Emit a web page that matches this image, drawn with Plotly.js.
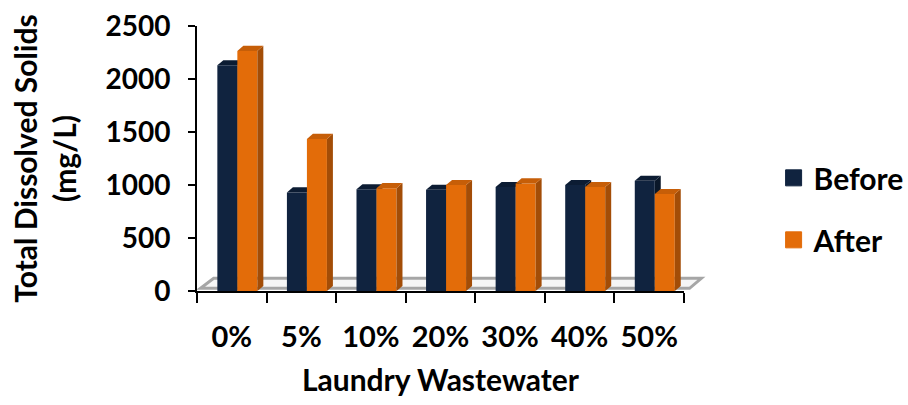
<!DOCTYPE html>
<html>
<head>
<meta charset="utf-8">
<script src="https://cdn.plot.ly/plotly-3.0.1.min.js"></script>
<style>html,body{margin:0;padding:0;background:#fff;}#chart{width:908px;height:405px;}</style>
</head>
<body>
<div id="chart"></div>
<script>
// ---- data ----
const categories = ["0%", "5%", "10%", "20%", "30%", "40%", "50%"];
const beforeValues = [2130, 930, 960, 955, 980, 1000, 1040];
const afterValues  = [2265, 1435, 970, 1000, 1015, 980, 915];
const seriesNames = ["Before", "After"];
const yTickValues = [0, 500, 1000, 1500, 2000, 2500];

// ---- styling ----
const FONT = "Lato, 'Open Sans', sans-serif";
const colBefore = "#10233f", colBeforeSide = "#0a1729", colBeforeTop = "#0c1c33";
const colAfter = "#e36c09", colAfterSide = "#a34d07", colAfterTop = "#c65e08";

const xIdx = categories.map((c, i) => i);
const barW = 0.2875;        // each bar width (axis units)
const shift = 0.08;         // 3D shift to the right
const dX = 0.086, dY = 48;  // depth offset of side/top faces

const offB = -barW + shift, offA = shift;

const traces = [
  {type: "bar", name: seriesNames[0], x: xIdx, y: beforeValues, width: barW, offset: offB,
   marker: {color: colBefore}, showlegend: false, hoverinfo: "y"},
  {type: "bar", name: seriesNames[1], x: xIdx, y: afterValues, width: barW, offset: offA,
   marker: {color: colAfter}, showlegend: false, hoverinfo: "y"},
  // legend keys (larger squares than the default bar key)
  {type: "scatter", mode: "markers", name: seriesNames[0], x: [null], y: [null], legendgroup: "b",
   marker: {symbol: "square", size: 16, color: colBefore, line: {width: 1, color: colBefore}}},
  {type: "scatter", mode: "markers", name: seriesNames[1], x: [null], y: [null], legendgroup: "a",
   marker: {symbol: "square", size: 16, color: colAfter, line: {width: 1, color: colAfter}}}
];

function faces(vals, off, side, top, layer) {
  const out = [];
  vals.forEach((v, i) => {
    const x0 = xIdx[i] + off, x1 = x0 + barW;
    out.push({type: "path", xref: "x", yref: "y", layer: layer,
      path: `M${x1},0 L${x1 + dX},${dY} L${x1 + dX},${v + dY} L${x1},${v} Z`,
      fillcolor: side, line: {width: 0}});
    out.push({type: "path", xref: "x", yref: "y", layer: layer,
      path: `M${x0},${v} L${x1},${v} L${x1 + dX},${v + dY} L${x0 + dX},${v + dY} Z`,
      fillcolor: top, line: {width: 0}});
  });
  return out;
}

const xMin = xIdx[0] - 0.5, xMax = xIdx[xIdx.length - 1] + 0.5;
const toPaper = x => (x - xMin) / (xMax - xMin);
const floor = {type: "path", xref: "paper", yref: "y", layer: "below",
  path: `M${toPaper(xMin + 0.05)},25 L${toPaper(xMax + 0.08)},25 L${toPaper(xMax + 0.25)},120 L${toPaper(xMin + 0.24)},120 Z`,
  fillcolor: "rgba(240,240,240,0.6)", line: {color: "#a6a6a6", width: 3}};

const shapes = [floor]
  .concat(faces(beforeValues, offB, colBeforeSide, colBeforeTop, "below"))
  .concat(faces(afterValues, offA, colAfterSide, colAfterTop, "above"));

const boundaries = [];
for (let i = 0; i <= categories.length; i++) boundaries.push(xMin + i);

const layout = {
  width: 908, height: 405,
  margin: {l: 197, r: 224, t: 26, b: 114, pad: 0, autoexpand: false},
  paper_bgcolor: "#fff", plot_bgcolor: "#fff",
  font: {family: FONT, size: 29, color: "#000", weight: "bold"},
  showlegend: true,
  xaxis: {
    range: [xMin, xMax], tickvals: xIdx, ticktext: categories,
    ticks: "", showgrid: false, zeroline: false,
    showline: true, linecolor: "#000", linewidth: 2,
    ticklabelstandoff: 19,
    tickfont: {family: FONT, size: 29, color: "#000", weight: "bold"},
    minor: {tickvals: boundaries, ticks: "outside", ticklen: 10, tickwidth: 2, tickcolor: "#000", showgrid: false},
    title: {text: "Laundry Wastewater", standoff: 18,
            font: {family: FONT, size: 30, color: "#000", weight: "bold"}},
    automargin: false,
    fixedrange: true
  },
  yaxis: {
    range: [0, 2500], tickvals: yTickValues, ticks: "outside", ticklen: 7, tickwidth: 2, tickcolor: "#000",
    showgrid: false, zeroline: false, showline: true, linecolor: "#000", linewidth: 2,
    ticklabelstandoff: 12,
    tickfont: {family: FONT, size: 28, color: "#000", weight: "bold"},
    title: {text: "Total Dissolved Solids<br>(mg/L)", standoff: 20,
            font: {family: FONT, size: 30, color: "#000", weight: "bold"}},
    automargin: false,
    fixedrange: true
  },
  legend: {x: 1.184, xanchor: "left", y: 0.31, yanchor: "middle",
           traceorder: "grouped", tracegroupgap: 20,
           font: {family: FONT, size: 30, color: "#000", weight: "bold"},
           bgcolor: "rgba(0,0,0,0)"},
  shapes: shapes
};

Plotly.newPlot("chart", traces, layout, {staticPlot: true, displayModeBar: false});
</script>
</body>
</html>
